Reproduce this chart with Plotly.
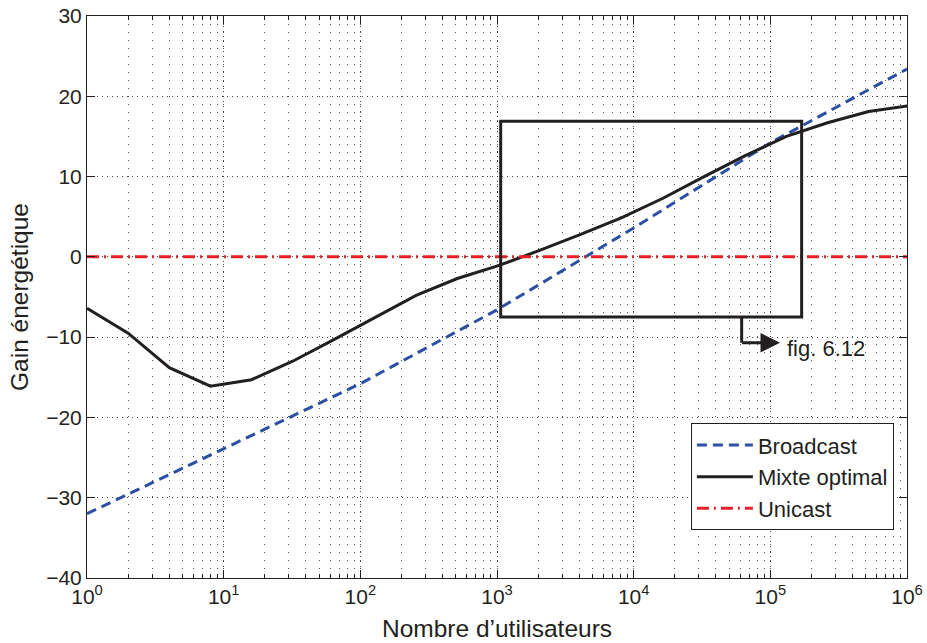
import numpy as np
import plotly.graph_objects as go

# Data
mixte_k = list(range(0, 21))  # N = 2**k
mixte_gain = [-6.4, -9.5, -13.8, -16.1, -15.3, -13.0, -10.3, -7.5, -4.8, -2.7,
              -1.1, 0.8, 2.8, 4.9, 7.3, 10.0, 12.6, 15.0, 16.7, 18.1, 18.85]
mixte_n = [2 ** k for k in mixte_k]

broadcast_n = [1, 10, 100, 1000, 10000, 100000, 1000000]
broadcast_gain = [-32.0, -23.9, -15.8, -6.6, 3.6, 14.2, 23.4]

unicast_n = [1, 1000000]
unicast_gain = [0, 0]

x_tickvals = [1, 10, 100, 1000, 10000, 100000, 1000000]
x_ticktext = ["10<sup>0</sup>", "10<sup>1</sup>", "10<sup>2</sup>", "10<sup>3</sup>",
              "10<sup>4</sup>", "10<sup>5</sup>", "10<sup>6</sup>"]
y_tickvals = [-40, -30, -20, -10, 0, 10, 20, 30]
y_ticktext = ["\u221240", "\u221230", "\u221220", "\u221210", "0", "10", "20", "30"]

zoom_box = dict(x0=1064, x1=169500, y0=-7.5, y1=16.9)
arrow_corner = dict(x=61700, y_top=-7.5, y=-10.7)
arrow_head_x = 117700
label_text = "fig. 6.12"

BLUE = "#2b50a3"
BLACK = "#231f20"
RED = "#e8202a"
FONT = "Liberation Sans, Arial, sans-serif"

fig = go.Figure()
fig.add_trace(go.Scatter(x=broadcast_n, y=broadcast_gain, mode="lines", name="Broadcast",
                         line=dict(color=BLUE, width=3, dash="10px,6px")))
fig.add_trace(go.Scatter(x=mixte_n, y=mixte_gain, mode="lines", name="Mixte optimal",
                         line=dict(color=BLACK, width=3)))
fig.add_trace(go.Scatter(x=unicast_n, y=unicast_gain, mode="lines", name="Unicast",
                         line=dict(color=RED, width=3, dash="12px,5px,2px,5px")))

# zoom rectangle
fig.add_shape(type="rect", xref="x", yref="y", x0=zoom_box["x0"], x1=zoom_box["x1"],
              y0=zoom_box["y0"], y1=zoom_box["y1"], line=dict(color=BLACK, width=3))
# vertical connector
fig.add_shape(type="line", xref="x", yref="y", x0=arrow_corner["x"], x1=arrow_corner["x"],
              y0=arrow_corner["y_top"], y1=arrow_corner["y"], line=dict(color=BLACK, width=3))
# horizontal arrow
fig.add_annotation(x=np.log10(arrow_head_x), y=arrow_corner["y"], xref="x", yref="y",
                   ax=np.log10(arrow_corner["x"]) - 0.008, ay=arrow_corner["y"], axref="x", ayref="y",
                   text="", showarrow=True, arrowhead=2, arrowsize=1.3, arrowwidth=3,
                   arrowcolor=BLACK, standoff=0, startstandoff=0)
fig.add_annotation(x=np.log10(arrow_head_x) + 0.035, y=arrow_corner["y"] - 0.7, xref="x", yref="y",
                   text=label_text, showarrow=False, xanchor="left", yanchor="middle",
                   font=dict(size=22, color=BLACK, family=FONT))

fig.update_layout(
    width=927, height=643,
    margin=dict(l=87, r=20, t=16, b=65, autoexpand=False),
    paper_bgcolor="white", plot_bgcolor="white",
    font=dict(family=FONT, color=BLACK, size=21),
    showlegend=True,
    legend=dict(x=0.984, y=0.085, xanchor="right", yanchor="bottom",
                bgcolor="white", bordercolor=BLACK, borderwidth=1,
                font=dict(size=22, family=FONT), itemwidth=56, tracegroupgap=0),
)
fig.update_xaxes(
    type="log", range=[0, 6], tickvals=x_tickvals, ticktext=x_ticktext,
    automargin=False, ticklabeloverflow="allow",
    showline=True, linecolor=BLACK, linewidth=1, mirror="allticks",
    ticks="inside", ticklen=8, tickcolor=BLACK,
    showgrid=True, gridcolor="#444444", griddash="1px,4px", gridwidth=1,
    zeroline=False,
    minor=dict(dtick="D1", showgrid=True, gridcolor="#555555", griddash="1px,7px",
               gridwidth=1, ticks="inside", ticklen=4, tickcolor=BLACK),
    title=dict(text="Nombre d\u2019utilisateurs", font=dict(size=24.5, family=FONT), standoff=12),
    tickfont=dict(size=21, family=FONT),
)
fig.update_yaxes(
    range=[-40, 30], tickvals=y_tickvals, ticktext=y_ticktext,
    automargin=False, ticklabeloverflow="allow",
    showline=True, linecolor=BLACK, linewidth=1, mirror="allticks",
    ticks="inside", ticklen=8, tickcolor=BLACK,
    showgrid=True, gridcolor="#444444", griddash="1px,4px", gridwidth=1,
    zeroline=False,
    title=dict(text="Gain \u00e9nerg\u00e9tique", font=dict(size=24.5, family=FONT), standoff=10),
    tickfont=dict(size=21, family=FONT),
)
fig.write_html("out.html", config={"displayModeBar": False},
               post_script="document.body.style.margin='0px';document.body.style.overflow='hidden';")
